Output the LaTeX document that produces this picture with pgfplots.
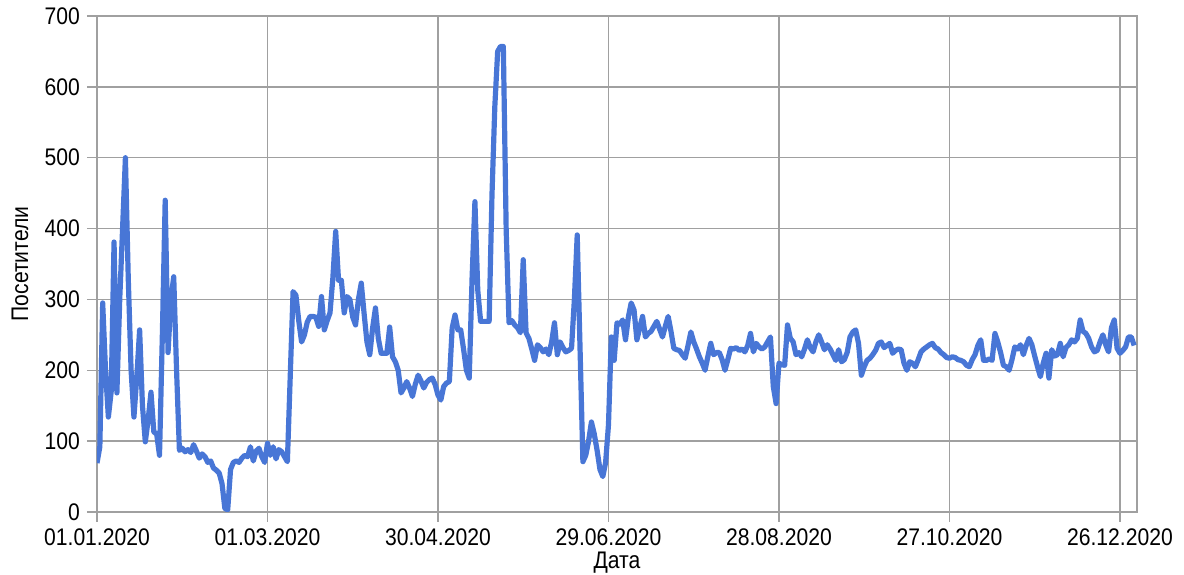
\documentclass[border=0pt]{standalone}
\usepackage{pgfplots}
\pgfplotsset{compat=1.18}
\usepackage{pgfplotstable}
\usepackage{fontspec}
\setmainfont[FakeStretch=0.88]{Liberation Sans}

\definecolor{lineblue}{RGB}{72,118,214}
\definecolor{gridgray}{RGB}{160,160,160}

% visitors per day, day 0 = 01.01.2020
\pgfplotstableread{
day val
0 69
1 92
2 295
3 200
4 134
5 170
6 381
7 168
8 300
10 500
11 330
12 200
13 134
14 190
15 257
16 150
17 99
18 130
19 169
20 113
21 110
22 80
23 250
24 440
25 225
26 300
27 332
28 200
29 87
30 90
31 85
32 88
33 84
34 95
35 86
36 76
37 82
38 78
39 70
40 72
41 62
42 59
43 55
44 40
45 5
46 3
47 60
48 70
49 72
50 70
51 76
52 80
53 78
54 92
55 72
56 86
57 90
58 78
59 70
60 97
61 80
62 92
63 75
64 88
65 85
66 78
67 71
69 311
70 306
71 270
72 240
73 250
74 268
75 276
76 276
77 275
78 262
79 304
80 257
81 270
82 281
83 330
84 396
85 327
86 327
87 281
88 304
89 300
90 275
91 264
92 300
93 323
94 280
95 240
96 222
97 260
98 288
99 245
100 224
101 224
102 224
103 261
104 219
105 212
106 200
107 168
108 175
109 184
110 175
111 163
112 180
113 193
114 185
115 175
116 183
117 187
118 189
119 180
120 165
121 158
122 177
123 182
124 184
125 260
126 278
127 257
128 257
129 230
130 200
131 189
132 330
133 438
134 313
135 269
136 269
137 269
138 269
139 447
140 572
141 650
142 657
143 657
144 398
145 267
146 270
147 264
148 260
149 253
150 356
151 253
152 245
153 230
154 214
155 236
156 232
157 226
158 230
159 222
160 240
161 267
162 222
163 240
164 232
165 226
166 228
167 231
168 300
169 391
170 230
171 71
172 80
173 100
174 127
175 110
176 87
177 60
178 50
179 70
180 123
181 247
182 214
183 267
184 265
185 271
186 243
187 275
188 295
189 285
190 243
191 260
192 276
193 247
194 252
195 255
196 262
197 269
198 258
199 247
200 262
201 276
202 255
203 231
204 229
205 228
206 222
207 217
208 235
209 254
210 240
211 230
212 219
213 210
214 200
215 220
216 238
217 222
218 225
219 225
220 215
221 200
222 215
223 231
224 230
225 232
226 228
227 230
228 226
229 235
230 252
231 226
232 238
233 233
234 230
235 233
236 240
237 247
238 177
239 153
240 210
241 208
242 207
243 264
244 245
245 240
246 222
247 225
248 219
249 230
250 243
251 232
252 226
253 240
254 250
255 240
256 229
257 236
258 230
259 222
260 214
261 229
262 212
263 215
264 225
265 247
266 254
267 257
268 238
269 193
270 205
271 214
272 217
273 222
274 228
275 238
276 240
277 232
278 235
279 238
280 224
281 228
282 230
283 229
284 210
285 200
286 212
287 210
288 205
289 215
290 226
291 230
292 233
293 236
294 238
295 232
296 230
297 225
298 222
299 218
300 217
301 219
302 218
303 215
304 214
305 212
306 207
307 205
308 215
309 222
310 235
311 243
312 214
313 214
314 216
315 214
316 252
317 240
318 225
319 207
320 205
321 200
322 215
323 233
324 230
325 236
326 222
327 235
328 245
329 236
330 220
331 205
332 191
333 210
334 224
335 189
336 229
337 220
338 222
339 238
340 219
341 232
342 236
343 243
344 240
345 245
346 271
347 255
348 252
349 245
350 233
351 226
352 228
353 240
354 250
355 236
356 226
357 260
358 271
359 231
360 224
361 228
362 233
363 247
364 247
365 235
}\visitors

\begin{document}
\begin{tikzpicture}
\begin{axis}[
    scale only axis,
    width=520pt, height=248pt,
    xmin=0, xmax=366, ymin=0, ymax=700,
    xtick={0,60,...,360},
    xticklabels={01.01.2020,01.03.2020,30.04.2020,29.06.2020,28.08.2020,27.10.2020,26.12.2020},
    ytick={0,100,...,700},
    grid=major,
    grid style={gridgray, line width=0.7pt},
    axis line style={gridgray, line width=0.7pt},
    tick style={gridgray, line width=0.7pt},
    tick pos=left,
    tick align=outside,
    major tick length=5pt,
    /pgf/number format/assume math mode=true,
    ticklabel style={font=\fontsize{12pt}{14pt}\selectfont},
    label style={font=\fontsize{12pt}{14pt}\selectfont},
    xlabel={Дата},
    ylabel={Посетители},
    xlabel style={at={([yshift=-25.5pt]axis description cs:0.5,0)}, anchor=center},
    ylabel style={at={([xshift=-38.5pt]axis description cs:0,0.5)}, anchor=center},
  ]
  \addplot[lineblue, line width=2.6pt, line join=round] table[x=day, y=val] {\visitors};
\end{axis}
\pgfresetboundingbox
\path ([xshift=-48.5pt,yshift=-31.5pt]current axis.south west)
  rectangle ([xshift=23.5pt,yshift=8pt]current axis.north east);
\end{tikzpicture}
\end{document}
